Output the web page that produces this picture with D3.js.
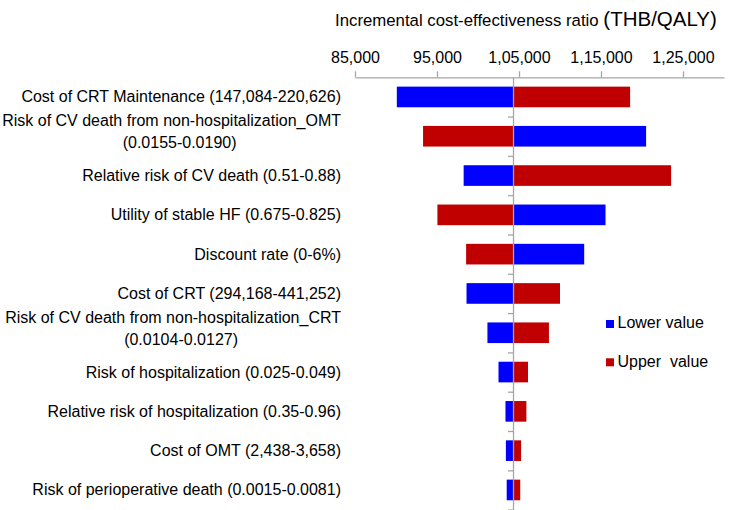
<!DOCTYPE html>
<html>
<head>
<meta charset="utf-8">
<script src="https://cdn.jsdelivr.net/npm/d3@7"></script>
<style>
    body { margin: 0; background: #fff; }
    svg { font-family: "Liberation Sans", Arial, sans-serif; }
    .axis path, .axis line { stroke: #a6a6a6; stroke-width: 1.3; }
    .axis text { font-size: 16px; fill: #000; }
</style>
</head>
<body>
<script>
(function(){

    //parameter labels (a "|" marks a wrapped line)
    var categories = [
        "Cost of CRT Maintenance (147,084-220,626)",
        "Risk of CV death from non-hospitalization_OMT|(0.0155-0.0190)",
        "Relative risk of CV death (0.51-0.88)",
        "Utility of stable HF (0.675-0.825)",
        "Discount rate (0-6%)",
        "Cost of CRT (294,168-441,252)",
        "Risk of CV death from non-hospitalization_CRT|(0.0104-0.0127)",
        "Risk of hospitalization (0.025-0.049)",
        "Relative risk of hospitalization (0.35-0.96)",
        "Cost of OMT (2,438-3,658)",
        "Risk of perioperative death (0.0015-0.0081)"
    ];

    //ICER at the lower / upper value of each parameter
    var lowerValues = [90100, 120500, 98250, 115550, 112950, 98600, 101150, 102500, 103350, 103400, 103500];
    var upperValues = [118550, 93300, 123550, 95050, 98550, 110000, 108650, 106100, 105900, 105250, 105150];

    var baseICER = 104270;
    var tickValues = [85000, 95000, 105000, 115000, 125000];
    var legendLabels = ["Lower value", "Upper  value"];
    var colors = ["#0000FF", "#C00000"];

    var width = 750, height = 510;
    var plotLeft = 355, plotRight = 724, plotTop = 77.3, plotBottom = 509.6;

    var svg = d3.select("body").append("svg")
        .attr("width", width)
        .attr("height", height);

    //indian style grouping, e.g. 1,05,000
    var fmt = d3.formatLocale({decimal: ".", thousands: ",", grouping: [3, 2], currency: ["", ""]}).format(",d");

    var x = d3.scaleLinear()
        .domain([85000, 130000])
        .range([plotLeft, plotRight]);

    var y = d3.scaleBand()
        .domain(categories)
        .range([plotTop, plotBottom])
        .paddingInner(0.475)
        .paddingOuter(0.2375);

    //separators between categories on the vertical axis
    var yIdx = d3.scaleLinear()
        .domain([0, categories.length])
        .range([plotTop, plotBottom]);

    //title
    var title = svg.append("text")
        .attr("x", 335)
        .attr("y", 26)
        .attr("fill", "#000");
    title.append("tspan").style("font-size", "16.8px").text("Incremental cost-effectiveness ratio ");
    title.append("tspan").style("font-size", "20.5px").text("(THB/QALY)");

    //bars: lower value bars and upper value bars
    var rows = categories.map(function(c, i){
        return {cat: c, lower: lowerValues[i], upper: upperValues[i]};
    });

    [["lower", 0], ["upper", 1]].forEach(function(s){
        svg.selectAll(".bar-" + s[0])
            .data(rows)
            .enter()
            .append("rect")
            .attr("class", "bar-" + s[0])
            .attr("x", function(d){ return x(Math.min(d[s[0]], baseICER)); })
            .attr("width", function(d){ return Math.abs(x(d[s[0]]) - x(baseICER)); })
            .attr("y", function(d){ return y(d.cat); })
            .attr("height", y.bandwidth())
            .attr("fill", colors[s[1]]);
    });

    //top value axis
    var xAxis = svg.append("g")
        .attr("class", "axis")
        .attr("transform", "translate(0," + plotTop + ")")
        .call(d3.axisTop(x)
            .tickValues(tickValues)
            .tickFormat(fmt)
            .tickSize(6)
            .tickSizeOuter(0)
            .tickPadding(8));
    xAxis.selectAll("text").attr("font-family", null);

    //vertical category axis crossing at the base case
    var yAxis = svg.append("g")
        .attr("class", "axis")
        .attr("transform", "translate(" + x(baseICER) + ",0)")
        .call(d3.axisLeft(yIdx)
            .tickValues(d3.range(1, categories.length + 1))
            .tickFormat("")
            .tickSize(5)
            .tickSizeOuter(0));

    //category labels
    var labels = svg.selectAll(".label")
        .data(categories)
        .enter()
        .append("text")
        .attr("class", "label")
        .style("font-size", "16px")
        .attr("fill", "#000");

    labels.each(function(d){
        var parts = d.split("|");
        var cy = y(d) + y.bandwidth() / 2;
        var t = d3.select(this);
        if (parts.length === 1){
            t.attr("x", 341).attr("y", cy + 5.5).attr("text-anchor", "end").text(d);
        } else {
            var first = t.append("tspan")
                .attr("x", 341).attr("y", cy - 10)
                .attr("text-anchor", "end")
                .text(parts[0]);
            var w = first.node().getComputedTextLength();
            t.append("tspan")
                .attr("x", 341 - w / 2 + 8).attr("y", cy + 12)
                .attr("text-anchor", "middle")
                .text(parts[1]);
        }
    });

    //legend
    var legend = svg.selectAll(".legend")
        .data(legendLabels)
        .enter()
        .append("g")
        .attr("class", "legend")
        .attr("transform", function(d, i){ return "translate(606," + (320 + i * 38.3) + ")"; });

    legend.append("rect")
        .attr("width", 8)
        .attr("height", 8)
        .attr("fill", function(d, i){ return colors[i]; });

    legend.append("text")
        .attr("x", 11.5)
        .attr("y", 8.3)
        .style("font-size", "16px")
        .style("white-space", "pre")
        .attr("fill", "#000")
        .text(function(d){ return d; });

})();
</script>
</body>
</html>
